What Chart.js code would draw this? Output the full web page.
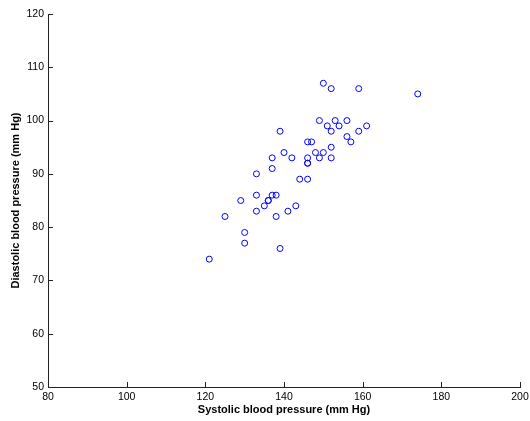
<!DOCTYPE html>
<html>
<head>
<meta charset="utf-8">
<script src="https://cdn.jsdelivr.net/npm/chart.js@4"></script>
<style>
  html, body { margin: 0; padding: 0; background: #fff; }
  #wrap { width: 530px; height: 421px; }
</style>
</head>
<body>
<div id="wrap"><canvas id="chartScatter" width="530" height="421"></canvas></div>
<script>
// systolic / diastolic readings
const systolic = [150, 152, 159, 174, 149, 153, 156, 151, 154, 161, 152, 159, 139, 156, 157, 146, 147,
    140, 148, 150, 152, 137, 142, 146, 149, 152, 146, 146, 137, 133, 144, 146,
    133, 137, 138, 129, 136, 136, 135, 143, 133, 141, 125, 138, 130, 130, 139, 121];
const diastolic = [107, 106, 106, 105, 100, 100, 100, 99, 99, 99, 98, 98, 98, 97, 96, 96, 96,
    94, 94, 94, 95, 93, 93, 93, 93, 93, 92, 92, 91, 90, 89, 89,
    86, 86, 86, 85, 85, 85, 84, 84, 83, 83, 82, 82, 79, 77, 76, 74];

const xTicks = [80, 100, 120, 140, 160, 180, 200];
const yTicks = [50, 60, 70, 80, 90, 100, 110, 120];

const points = systolic.map(function(s, i) {
    return { x: s, y: diastolic[i] };
});

const fontFamily = "'Liberation Sans', Arial, Helvetica, sans-serif";

// MATLAB style ticks pointing into the plot
const inwardTicks = {
    id: "inwardTicks",
    afterDraw: function(chart) {
        const ctx = chart.ctx;
        const area = chart.chartArea;
        const xs = chart.scales.x;
        const ys = chart.scales.y;
        ctx.save();
        ctx.strokeStyle = "#222";
        ctx.lineWidth = 1;
        ctx.beginPath();
        xTicks.forEach(function(v) {
            const px = Math.round(xs.getPixelForValue(v)) + 0.5;
            ctx.moveTo(px, area.bottom);
            ctx.lineTo(px, area.bottom - 5);
        });
        yTicks.forEach(function(v) {
            const py = Math.round(ys.getPixelForValue(v)) + 0.5;
            ctx.moveTo(area.left, py);
            ctx.lineTo(area.left + 5, py);
        });
        ctx.stroke();
        ctx.restore();
    }
};

const data = {
    datasets: [
        {
            label: "BP",
            data: points,
            pointStyle: "circle",
            pointRadius: 3,
            pointHoverRadius: 3,
            borderWidth: 1,
            borderColor: "#0000ff",
            backgroundColor: "rgba(0,0,0,0)",
        }
    ]
};

const configScatter = {
    type: "scatter",
    data,
    options: {
        responsive: false,
        animation: false,
        layout: { padding: { top: 14, right: 10, bottom: 0, left: 0 } },
        plugins: {
            legend: { display: false },
            tooltip: { enabled: false },
        },
        scales: {
            x: {
                type: "linear",
                min: 80,
                max: 200,
                afterBuildTicks: function(scale) {
                    scale.ticks = xTicks.map(function(v) { return { value: v }; });
                },
                afterFit: function(scale) {
                    scale.height = 34;
                    scale.paddingRight = 0;
                },
                grid: { display: false, drawTicks: false },
                border: { display: true, color: "#222", width: 1 },
                ticks: {
                    color: "#000",
                    padding: 4,
                    maxRotation: 0,
                    font: { family: fontFamily, size: 10.5 },
                },
                title: {
                    display: true,
                    text: "Systolic blood pressure (mm Hg)",
                    color: "#000",
                    padding: { top: 0, bottom: 4 },
                    font: { family: fontFamily, size: 11, weight: "bold" },
                },
            },
            y: {
                type: "linear",
                min: 50,
                max: 120,
                afterBuildTicks: function(scale) {
                    scale.ticks = yTicks.map(function(v) { return { value: v }; });
                },
                afterFit: function(scale) { scale.width = 48; },
                grid: { display: false, drawTicks: false },
                border: { display: true, color: "#222", width: 1 },
                ticks: {
                    color: "#000",
                    padding: 4,
                    font: { family: fontFamily, size: 10.5 },
                },
                title: {
                    display: true,
                    text: "Diastolic blood pressure (mm Hg)",
                    color: "#000",
                    padding: { top: 9, bottom: 0 },
                    font: { family: fontFamily, size: 11, weight: "bold" },
                },
            },
        },
    },
    plugins: [inwardTicks],
};

var chartScatter = new Chart(
    document.getElementById("chartScatter"),
    configScatter
);
</script>
</body>
</html>
